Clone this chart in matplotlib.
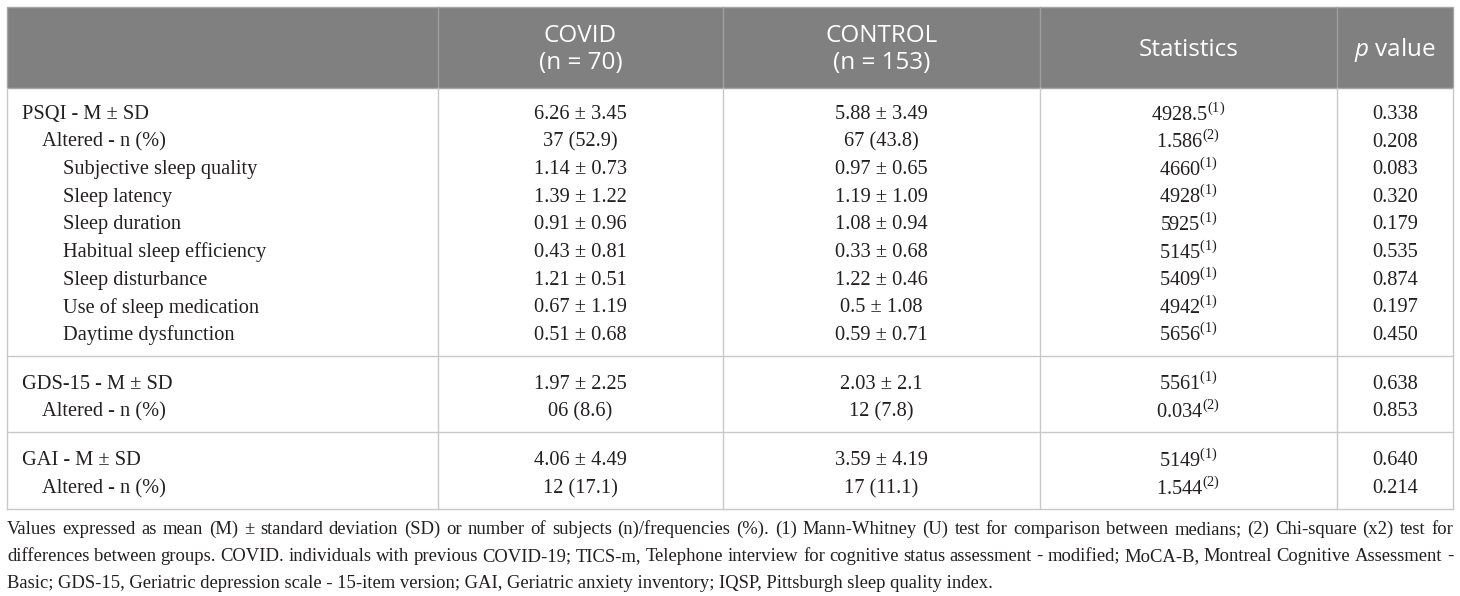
import matplotlib.pyplot as plt
from matplotlib.patches import Rectangle

plt.rcParams["mathtext.fontset"] = "custom"
plt.rcParams["mathtext.rm"] = "Liberation Serif"
plt.rcParams["mathtext.it"] = "Open Sans:italic"

# -------------------------------------------------------------------------
# Table content
# -------------------------------------------------------------------------
headers = ["", "COVID\n(n = 70)", "CONTROL\n(n = 153)", "Statistics", r"$\mathit{p}$ value"]

labels = [
    "PSQI - M ± SD",
    "Altered - n (%)",
    "Subjective sleep quality",
    "Sleep latency",
    "Sleep duration",
    "Habitual sleep efficiency",
    "Sleep disturbance",
    "Use of sleep medication",
    "Daytime dysfunction",
    "GDS-15 - M ± SD",
    "Altered - n (%)",
    "GAI - M ± SD",
    "Altered - n (%)",
]
indent = [0, 1, 2, 2, 2, 2, 2, 2, 2, 0, 1, 0, 1]
section = [0, 0, 0, 0, 0, 0, 0, 0, 0, 1, 1, 2, 2]

covid = [
    "6.26 ± 3.45", "37 (52.9)", "1.14 ± 0.73", "1.39 ± 1.22", "0.91 ± 0.96",
    "0.43 ± 0.81", "1.21 ± 0.51", "0.67 ± 1.19", "0.51 ± 0.68",
    "1.97 ± 2.25", "06 (8.6)", "4.06 ± 4.49", "12 (17.1)",
]
control = [
    "5.88 ± 3.49", "67 (43.8)", "0.97 ± 0.65", "1.19 ± 1.09", "1.08 ± 0.94",
    "0.33 ± 0.68", "1.22 ± 0.46", "0.5 ± 1.08", "0.59 ± 0.71",
    "2.03 ± 2.1", "12 (7.8)", "3.59 ± 4.19", "17 (11.1)",
]
statistic = ["4928.5", "1.586", "4660", "4928", "5925", "5145", "5409", "4942",
             "5656", "5561", "0.034", "5149", "1.544"]
test_id = [1, 2, 1, 1, 1, 1, 1, 1, 1, 1, 2, 1, 2]
p_values = ["0.338", "0.208", "0.083", "0.320", "0.179", "0.535", "0.874",
            "0.197", "0.450", "0.638", "0.853", "0.640", "0.214"]

footnote = [
    "Values expressed as mean (M) ± standard deviation (SD) or number of subjects (n)/frequencies (%). "
    "(1) Mann-Whitney (U) test for comparison between medians; (2) Chi-square (x2) test for",
    "differences between groups. COVID. individuals with previous COVID-19; TICS-m, Telephone interview "
    "for cognitive status assessment - modified; MoCA-B, Montreal Cognitive Assessment -",
    "Basic; GDS-15, Geriatric depression scale - 15-item version; GAI, Geriatric anxiety inventory; "
    "IQSP, Pittsburgh sleep quality index.",
]

# -------------------------------------------------------------------------
# Layout (pixels)
# -------------------------------------------------------------------------
W, H = 1460, 596
col_edges = [7, 438, 723, 1040, 1337, 1453]
top, head_bottom = 7, 88
row_pitch = 27.6
sec_pad_top = 24
sec_pad_bottom = 23

fig = plt.figure(figsize=(W / 100, H / 100), dpi=100)
ax = fig.add_axes([0, 0, 1, 1])
ax.set_xlim(0, W)
ax.set_ylim(H, 0)
ax.axis("off")

body_font = dict(family="Liberation Serif", fontsize=14.7, color="#231f20")
head_font = dict(family="Open Sans", fontsize=17.5, color="white")

# header band
ax.add_patch(Rectangle((col_edges[0], top), col_edges[-1] - col_edges[0],
                       head_bottom - top, facecolor="#808080", edgecolor="#a6a6a6", lw=1))
for x in col_edges[1:-1]:
    ax.plot([x, x], [top, head_bottom], color="#a0a0a0", lw=1)

centers = [(a + b) / 2 for a, b in zip(col_edges[:-1], col_edges[1:])]
head_mid = (top + head_bottom) / 2 + 2
for j, h in enumerate(headers):
    if h:
        ax.text(centers[j], head_mid, h, ha="center", va="center",
                linespacing=1.2, **head_font)

# row positions
ys = []
sep_lines = []
y = head_bottom + sec_pad_top
prev = section[0]
for i, s in enumerate(section):
    if s != prev:
        sep = ys[-1] + sec_pad_bottom
        sep_lines.append(sep)
        y = sep + sec_pad_top + 2
        prev = s
    ys.append(y)
    y += row_pitch
table_bottom = ys[-1] + sec_pad_bottom
sep_lines.append(table_bottom)

line_col = "#c8c8c8"
for x in col_edges:
    ax.plot([x, x], [head_bottom, table_bottom], color=line_col, lw=1)
for yl in sep_lines:
    ax.plot([col_edges[0], col_edges[-1]], [yl, yl], color=line_col, lw=1)

for i, yy in enumerate(ys):
    ax.text(22 + 20.5 * indent[i], yy, labels[i], ha="left", va="center_baseline", **body_font)
    ax.text(centers[1], yy, covid[i], ha="center", va="center_baseline", **body_font)
    ax.text(centers[2], yy, control[i], ha="center", va="center_baseline", **body_font)
    ax.text(centers[3], yy, statistic[i] + r"$^{\mathrm{(%d)}}$" % test_id[i],
            ha="center", va="center_baseline", **body_font)
    ax.text(centers[4], yy, p_values[i], ha="center", va="center_baseline", **body_font)

# footnote, justified lines
foot_font = dict(family="Liberation Serif", fontsize=13.4, color="#231f20")
renderer = fig.canvas.get_renderer()


def text_width(t):
    tmp = ax.text(0, 0, t, **foot_font)
    bb = tmp.get_window_extent(renderer)
    tmp.remove()
    return bb.width


base0 = table_bottom + 25
left, right = col_edges[0], col_edges[-1]
for k, line in enumerate(footnote):
    yb = base0 + 27 * k
    words = line.split(" ")
    if k < len(footnote) - 1:
        widths = [text_width(w) for w in words]
        gap = (right - left - sum(widths)) / (len(words) - 1)
        x = left
        for w, wd in zip(words, widths):
            ax.text(x, yb, w, ha="left", va="baseline", **foot_font)
            x += wd + gap
    else:
        ax.text(left, yb, line, ha="left", va="baseline", **foot_font)

fig.savefig("out.png", dpi=100)
